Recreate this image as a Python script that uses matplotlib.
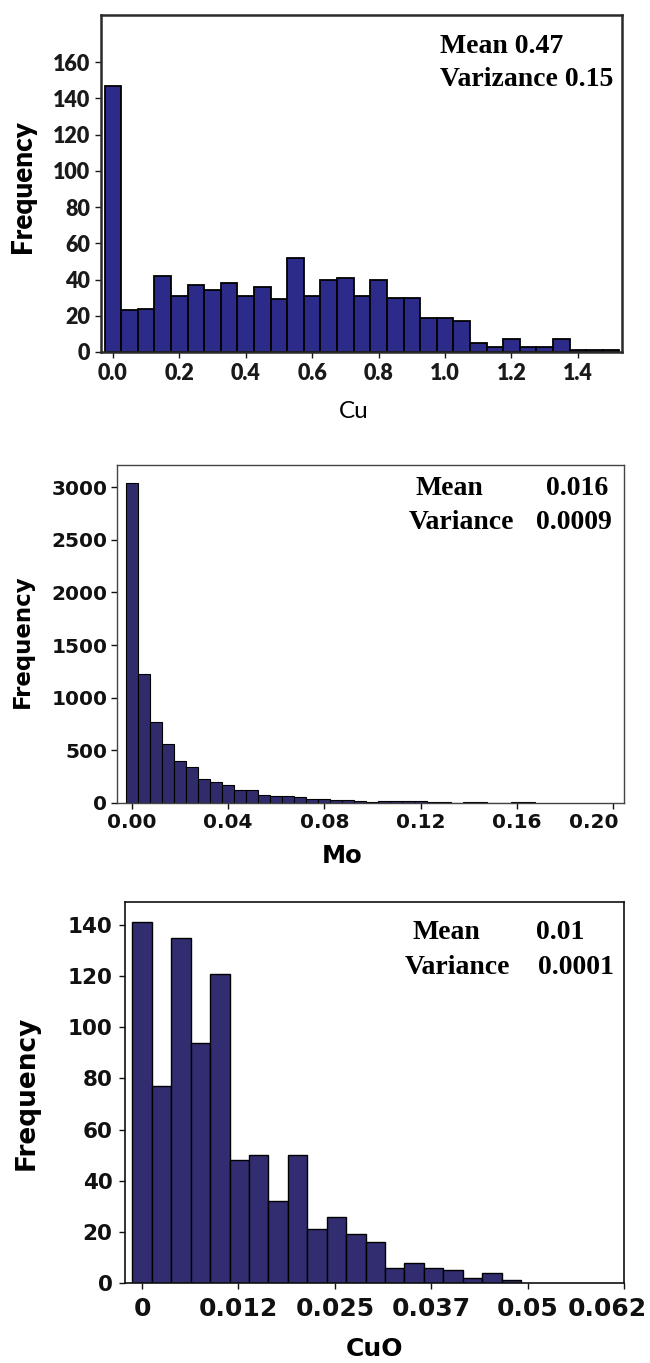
import matplotlib
matplotlib.use("Agg")
import matplotlib.pyplot as plt
import matplotlib.transforms as mtransforms
import numpy as np

# Cu histogram, bin width 0.05
cu_width = 0.05
cu_counts = [147, 23, 24, 42, 31, 37, 34, 38, 31, 36, 29, 52, 31, 40, 41, 31,
             40, 30, 30, 19, 19, 17, 5, 3, 7, 3, 3, 7, 1, 1, 1]
cu_xticks = [0.0, 0.2, 0.4, 0.6, 0.8, 1.0, 1.2, 1.4]
cu_xlabels = ["0.0", "0.2", "0.4", "0.6", "0.8", "1.0", "1.2", "1.4"]
cu_yticks = [0, 20, 40, 60, 80, 100, 120, 140, 160]

# Mo histogram, bin width 0.005
mo_width = 0.005
mo_counts = [3040, 1228, 766, 558, 400, 338, 228, 203, 168, 128, 128, 72, 68,
             68, 56, 42, 42, 30, 30, 18, 8, 18, 18, 18, 18, 8, 8, 0, 6, 6,
             0, 0, 6, 6]
mo_xticks = [0.00, 0.04, 0.08, 0.12, 0.16, 0.20]
mo_xlabels = ["0.00", "0.04", "0.08", "0.12", "0.16", "0.20"]
mo_yticks = [0, 500, 1000, 1500, 2000, 2500, 3000]

# CuO histogram, bin width 0.0025
cuo_width = 0.0025
cuo_counts = [141, 77, 135, 94, 121, 48, 50, 32, 50, 21, 26, 19, 16, 6, 8, 6,
              5, 2, 4, 1]
cuo_xticks = [0.0, 0.0124, 0.0248, 0.0372, 0.0496, 0.062]
cuo_xlabels = ["0", "0.012", "0.025", "0.037", "0.05", "0.062"]
cuo_yticks = [0, 20, 40, 60, 80, 100, 120, 140]

W, H = 650, 1363
fig = plt.figure(figsize=(W / 100, H / 100), dpi=100)


def axes_px(left, top, right, bottom):
    # axes box given in pixels from the top left corner
    return fig.add_axes([left / W, 1 - bottom / H, (right - left) / W, (bottom - top) / H])


def shift_last_label(ax, dx):
    off = mtransforms.ScaledTranslation(dx / 100, 0, fig.dpi_scale_trans)
    lab = ax.get_xticklabels()[-1]
    lab.set_transform(lab.get_transform() + off)


serif = dict(family="Liberation Serif", weight="bold", size=20)

# ---------------- Cu ----------------
ax1 = axes_px(101, 15, 622, 352)
x = np.arange(len(cu_counts)) * cu_width
ax1.bar(x, cu_counts, width=cu_width, color="#2d2b8a", edgecolor="black", linewidth=1.3)
ax1.set_xlim(-0.036, 1.533)
ax1.set_ylim(0, 186)
ax1.set_xticks(cu_xticks)
ax1.set_xticklabels(cu_xlabels, family="Lato", weight="heavy", size=15.5)
ax1.set_yticks(cu_yticks)
ax1.set_yticklabels([str(v) for v in cu_yticks], family="Lato", weight="heavy", size=15.5)
ax1.tick_params(length=4, width=1, pad=4, colors="#1a1a1a")
for s in ax1.spines.values():
    s.set_linewidth(1.8)
    s.set_color("#2a2a2a")
ax1.set_ylabel("Frequency", family="Lato", weight="heavy", size=20, va="center")
ax1.yaxis.set_label_coords(-0.150, 0.49)
ax1.set_xlabel("Cu", family="Lato", size=17.5, va="center")
ax1.xaxis.set_label_coords(0.486, -0.178)
ax1.text(0.651, 0.908, "Mean 0.47", transform=ax1.transAxes, va="center", ha="left", **serif)
ax1.text(0.651, 0.808, "Varizance 0.15", transform=ax1.transAxes, va="center", ha="left", **serif)

# ---------------- Mo ----------------
ax2 = axes_px(117, 465, 624, 803)
x = np.arange(len(mo_counts)) * mo_width
ax2.bar(x, mo_counts, width=mo_width, color="#302c6c", edgecolor="black", linewidth=0.8)
ax2.set_xlim(-0.0062, 0.2046)
ax2.set_ylim(0, 3209)
ax2.set_xticks(mo_xticks)
ax2.set_xticklabels(mo_xlabels, weight="bold", size=14.5)
ax2.set_yticks(mo_yticks)
ax2.set_yticklabels([str(v) for v in mo_yticks], weight="bold", size=14.5)
ax2.tick_params(length=4, width=1, pad=3, colors="#111111")
for s in ax2.spines.values():
    s.set_linewidth(1.0)
    s.set_color("#444444")
shift_last_label(ax2, -19)
ax2.set_ylabel("Frequency", weight="bold", size=16.5, va="center")
ax2.yaxis.set_label_coords(-0.187, 0.48)
ax2.set_xlabel("Mo", weight="bold", size=17.5, va="center")
ax2.xaxis.set_label_coords(0.444, -0.157)
ax2.text(0.588, 0.929, "Mean", transform=ax2.transAxes, va="center", ha="left", **serif)
ax2.text(0.907, 0.929, "0.016", transform=ax2.transAxes, va="center", ha="center", **serif)
ax2.text(0.576, 0.831, "Variance", transform=ax2.transAxes, va="center", ha="left", **serif)
ax2.text(0.901, 0.831, "0.0009", transform=ax2.transAxes, va="center", ha="center", **serif)

# ---------------- CuO ----------------
ax3 = axes_px(125, 902, 624, 1283)
x = np.arange(len(cuo_counts)) * cuo_width
ax3.bar(x, cuo_counts, width=cuo_width, color="#312d70", edgecolor="black", linewidth=1.0)
ax3.set_xlim(-0.0022, 0.062)
ax3.set_ylim(0, 149)
ax3.set_xticks(cuo_xticks)
ax3.set_xticklabels(cuo_xlabels, weight="bold", size=18)
ax3.set_yticks(cuo_yticks)
ax3.set_yticklabels([str(v) for v in cuo_yticks], weight="bold", size=15.5)
ax3.tick_params(length=4, width=1, colors="#111111")
ax3.tick_params(axis="x", pad=6)
ax3.tick_params(axis="y", pad=5)
for s in ax3.spines.values():
    s.set_linewidth(1.2)
    s.set_color("#111111")
shift_last_label(ax3, -17)
ax3.set_ylabel("Frequency", weight="bold", size=19, va="center")
ax3.yaxis.set_label_coords(-0.198, 0.50)
ax3.set_xlabel("CuO", weight="bold", size=18, va="center")
ax3.xaxis.set_label_coords(0.50, -0.173)
ax3.text(0.577, 0.919, "Mean", transform=ax3.transAxes, va="center", ha="left", **serif)
ax3.text(0.872, 0.919, "0.01", transform=ax3.transAxes, va="center", ha="center", **serif)
ax3.text(0.561, 0.829, "Variance", transform=ax3.transAxes, va="center", ha="left", **serif)
ax3.text(0.904, 0.829, "0.0001", transform=ax3.transAxes, va="center", ha="center", **serif)

fig.savefig("out.png", dpi=100)
